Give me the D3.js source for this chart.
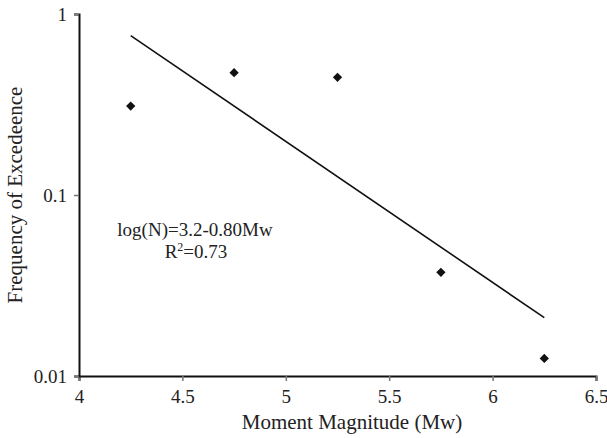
<!DOCTYPE html>
<html>
<head>
<meta charset="utf-8">
<script src="https://cdn.jsdelivr.net/npm/d3@7"></script>
<style>
  body { margin: 0; background: #fff; }
  text { font-family: "Liberation Serif", "Times New Roman", serif; fill: #222; }
</style>
</head>
<body>
<div id="chart"></div>
<script>
// observed points
var magnitudes = [4.25, 4.75, 5.25, 5.75, 6.25]
var frequencies = [0.31, 0.474, 0.447, 0.0374, 0.0125]

// trend line ends
var trendX = [4.25, 6.25]
var trendY = [0.76, 0.021]

var xTicks = [4, 4.5, 5, 5.5, 6, 6.5]
var yTicks = [0.01, 0.1, 1]
var yTickLabels = ["0.01", "0.1", "1"]

var width = 607, height = 438
var margin = {top: 14, right: 11, bottom: 62, left: 79}

var svg = d3.select("#chart").append("svg")
    .attr("width", width)
    .attr("height", height)

var x = d3.scaleLinear()
    .domain([4, 6.5])
    .range([margin.left, width - margin.right])

var y = d3.scaleLog()
    .domain([0.01, 1])
    .range([height - margin.bottom, margin.top])

// x axis
var xAxis = svg.append("g")
    .attr("transform", "translate(0," + (height - margin.bottom) + ")")
    .call(d3.axisBottom(x).tickValues(xTicks).tickSize(5).tickPadding(8.5)
      .tickFormat(d => d3.format("")(d)))
xAxis.select(".domain").attr("stroke", "#111").attr("stroke-width", 2)
xAxis.selectAll(".tick line").attr("stroke", "#777").attr("stroke-width", 1.5)
xAxis.selectAll("text").attr("font-size", 19).attr("fill", "#222")
  .attr("font-family", "Liberation Serif")

// y axis
var yAxis = svg.append("g")
    .attr("transform", "translate(" + margin.left + ",0)")
    .call(d3.axisLeft(y).tickValues(yTicks).tickSize(5).tickPadding(7)
      .tickFormat((d, i) => yTickLabels[i]))
yAxis.select(".domain").attr("stroke", "#111").attr("stroke-width", 2)
yAxis.selectAll(".tick line").attr("stroke", "#777").attr("stroke-width", 1.5)
yAxis.selectAll("text").attr("font-size", 19).attr("fill", "#222")
  .attr("font-family", "Liberation Serif")

// axis titles
svg.append("text")
    .attr("x", 352)
    .attr("y", 429)
    .attr("text-anchor", "middle")
    .attr("font-size", 21)
    .text("Moment Magnitude (Mw)")

svg.append("text")
    .attr("transform", "translate(22," + 195 + ") rotate(-90)")
    .attr("text-anchor", "middle")
    .attr("font-size", 21)
    .text("Frequency of Excedeence")

// trend line
svg.append("path")
    .datum(trendX.map((d, i) => [d, trendY[i]]))
    .attr("fill", "none")
    .attr("stroke", "#111")
    .attr("stroke-width", 1.6)
    .attr("d", d3.line().x(d => x(d[0])).y(d => y(d[1])))

// points
svg.append("g")
  .selectAll("path")
  .data(magnitudes)
  .join("path")
    .attr("transform", (d, i) => "translate(" + x(d) + "," + y(frequencies[i]) + ")")
    .attr("d", d3.symbol().type(d3.symbolDiamond2).size(55))
    .attr("fill", "#111")

// equation
svg.append("text")
    .attr("x", 195)
    .attr("y", 236)
    .attr("text-anchor", "middle")
    .attr("font-size", 19)
    .text("log(N)=3.2-0.80Mw")

var r2 = svg.append("text")
    .attr("x", 196)
    .attr("y", 258)
    .attr("text-anchor", "middle")
    .attr("font-size", 19)
r2.append("tspan").text("R")
r2.append("tspan").attr("font-size", 12).attr("dy", -7).text("2")
r2.append("tspan").attr("dy", 7).text("=0.73")
</script>
</body>
</html>
